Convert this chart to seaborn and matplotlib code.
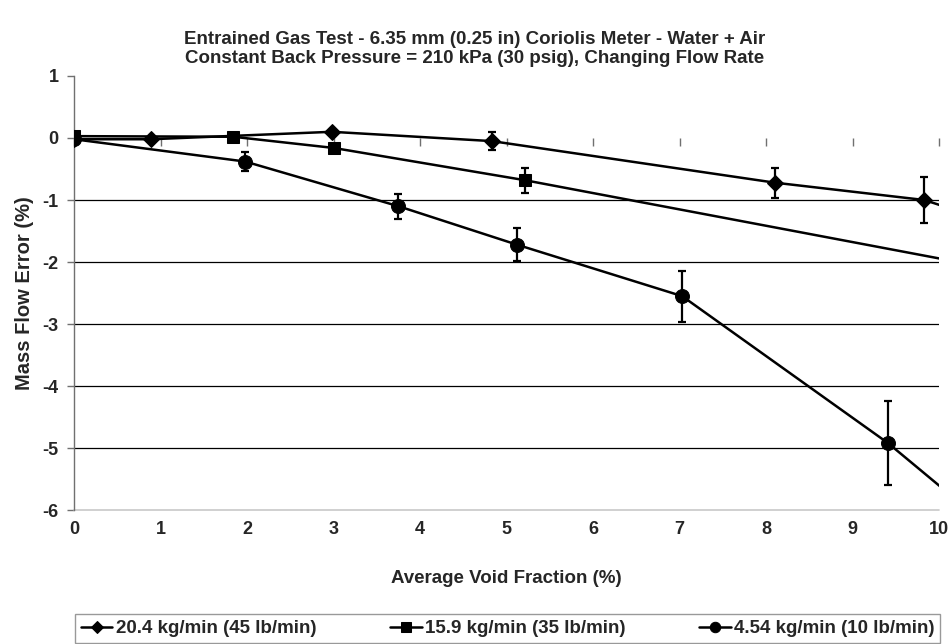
import seaborn as sns
import matplotlib.pyplot as plt
import pandas as pd

# data (last point of each series lies past x=10, clipped)
x_204 = [0, 0.89, 2.98, 4.83, 8.1, 9.83, 10.6]
y_204 = [-0.02, -0.02, 0.1, -0.05, -0.72, -1.0, -1.35]
e_204 = [0, 0, 0, 0.14, 0.24, 0.37, 0]

x_159 = [0, 1.84, 3.0, 5.21, 10.6]
y_159 = [0.03, 0.02, -0.16, -0.68, -2.1]
e_159 = [0, 0, 0, 0.2, 0]

x_454 = [0, 1.98, 3.75, 5.12, 7.03, 9.41, 10.6]
y_454 = [-0.02, -0.38, -1.1, -1.72, -2.55, -4.92, -6.3]
e_454 = [0, 0.15, 0.2, 0.27, 0.41, 0.68, 0]

labels = ["20.4 kg/min (45 lb/min)", "15.9 kg/min (35 lb/min)", "4.54 kg/min (10 lb/min)"]
markers = ["D", "s", "o"]
msizes = [8, 9, 10]

x_ticks = list(range(0, 11))
y_ticks = list(range(-6, 2))
grid_vals = [-1, -2, -3, -4, -5]

sns.set_style("white")
plt.rcParams['font.family'] = ['Liberation Sans', 'DejaVu Sans']
plt.rcParams['font.weight'] = 'bold'
plt.rcParams['axes.unicode_minus'] = False

fig = plt.figure(figsize=(9.49, 6.44), dpi=100)
ax = fig.add_axes([0.078, 0.208, 0.9115, 0.674])

series = [(x_204, y_204, e_204), (x_159, y_159, e_159), (x_454, y_454, e_454)]
for (xs, ys, es), lab, mk, ms in zip(series, labels, markers, msizes):
    df = pd.DataFrame({"x": xs, "y": ys, "e": es})
    sns.lineplot(data=df, x="x", y="y", ax=ax, color="black", lw=1.8,
                 marker=mk, markersize=ms, markeredgecolor="black",
                 label=lab, sort=False, zorder=4)
    sub = df[df["e"] > 0]
    ax.errorbar(sub["x"], sub["y"], yerr=sub["e"], fmt="none", ecolor="black",
                elinewidth=1.6, capsize=3.2, capthick=1.6, zorder=3)

for g in grid_vals:
    ax.axhline(g, color="black", lw=0.9, zorder=1)
ax.axhline(-6, color="#c8c8c8", lw=1.2, zorder=1, clip_on=False)

ax.set_xlim(0, 10)
ax.set_ylim(-6, 1)
ax.set_xticks(x_ticks)
ax.set_yticks(y_ticks)
ax.tick_params(axis="x", length=0, labelsize=13, pad=8)
ax.tick_params(axis="y", length=5, width=1, color="#707070", direction="out",
               labelsize=13, pad=6, left=True)
for t in ax.get_xticklabels() + ax.get_yticklabels():
    t.set_fontweight("bold")
for sp in ["top", "right", "bottom"]:
    ax.spines[sp].set_visible(False)
ax.spines["left"].set_color("#707070")
ax.spines["left"].set_linewidth(1)

# x axis line crossing at y=0 with ticks hanging below
sec = ax.secondary_xaxis(6 / 7)
sec.set_xticks(x_ticks)
sec.tick_params(length=6, width=1, color="#707070", direction="out", labelbottom=False,
                labeltop=False, bottom=True, top=False)
sec.spines["bottom"].set_color("#707070")
sec.spines["bottom"].set_linewidth(1)
sec.spines["top"].set_visible(False)
for sp in ["left", "right"]:
    sec.spines[sp].set_visible(False)

ax.set_xlabel("Average Void Fraction (%)", fontsize=13.5, fontweight="bold", labelpad=23)
ax.set_ylabel("Mass Flow Error (%)", fontsize=14.5, fontweight="bold", labelpad=6)

fig.text(0.5, 1 - 49 / 644,
         "Entrained Gas Test - 6.35 mm (0.25 in) Coriolis Meter - Water + Air\n"
         "Constant Back Pressure = 210 kPa (30 psig), Changing Flow Rate",
         ha="center", va="center", fontsize=13.5, fontweight="bold", linespacing=1.2)

ax.get_legend().remove()
handles, labs = ax.get_legend_handles_labels()
leg = fig.legend(handles, labs, ncol=3, loc="lower left",
                 bbox_to_anchor=(0.079, 0.002, 0.912, 0.053), mode="expand",
                 frameon=True, fancybox=False, edgecolor="#808080",
                 prop={"size": 13.5, "weight": "bold"}, handlelength=1.7,
                 handletextpad=0.2, borderaxespad=0, borderpad=0.3, markerscale=0.75)
leg.get_frame().set_linewidth(1)

fig.savefig("out.png", dpi=100)
